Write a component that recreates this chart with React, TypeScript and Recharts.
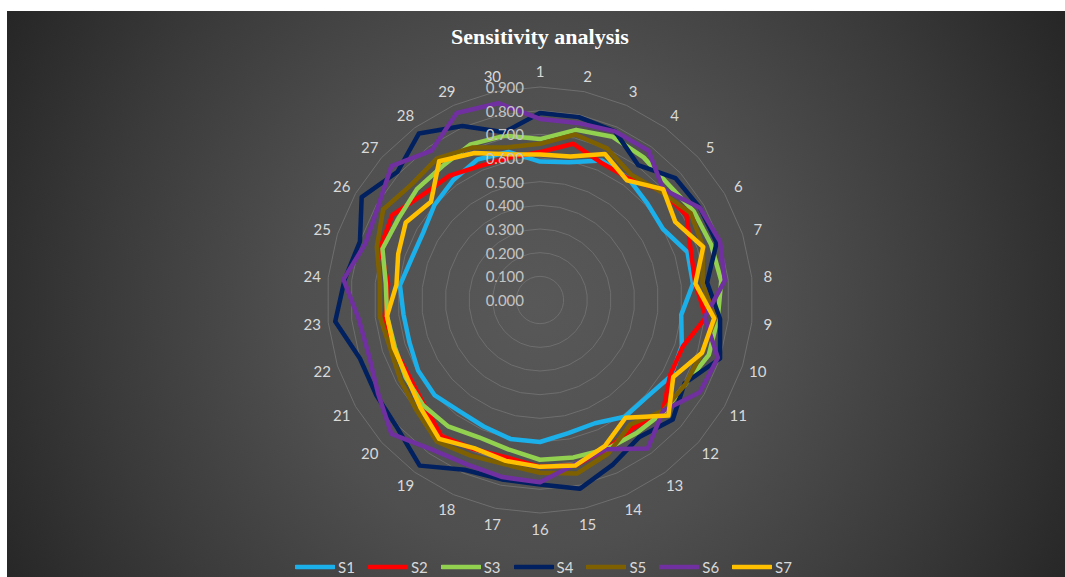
import React from 'react';
import { RadarChart, Radar, PolarGrid, PolarAngleAxis, PolarRadiusAxis, Legend } from 'recharts';

const CATEGORIES = ['1','2','3','4','5','6','7','8','9','10','11','12','13','14','15','16','17','18','19','20','21','22','23','24','25','26','27','28','29','30'];

const S1 = [0.585,0.595,0.645,0.635,0.61,0.60,0.655,0.65,0.60,0.63,0.64,0.61,0.61,0.57,0.575,0.60,0.60,0.585,0.58,0.60,0.595,0.58,0.58,0.595,0.57,0.57,0.60,0.625,0.65,0.64];
const S2 = [0.625,0.675,0.635,0.635,0.69,0.715,0.67,0.66,0.705,0.635,0.635,0.70,0.67,0.69,0.715,0.705,0.68,0.69,0.71,0.66,0.64,0.65,0.66,0.645,0.71,0.72,0.665,0.65,0.62,0.615];
const S3 = [0.68,0.735,0.755,0.745,0.73,0.75,0.76,0.77,0.755,0.75,0.71,0.705,0.695,0.69,0.68,0.675,0.645,0.635,0.66,0.665,0.655,0.645,0.65,0.655,0.70,0.69,0.70,0.70,0.72,0.71];
const S4 = [0.79,0.79,0.78,0.705,0.77,0.78,0.785,0.71,0.765,0.80,0.705,0.755,0.715,0.76,0.815,0.78,0.775,0.785,0.865,0.81,0.80,0.80,0.87,0.83,0.80,0.87,0.81,0.87,0.805,0.725];
const S5 = [0.66,0.715,0.70,0.655,0.685,0.735,0.725,0.69,0.745,0.72,0.71,0.70,0.65,0.71,0.75,0.73,0.71,0.72,0.74,0.70,0.68,0.665,0.68,0.68,0.725,0.765,0.73,0.74,0.705,0.66];
const S6 = [0.765,0.765,0.78,0.78,0.70,0.78,0.80,0.785,0.70,0.79,0.78,0.70,0.775,0.69,0.71,0.77,0.765,0.76,0.78,0.845,0.79,0.76,0.77,0.835,0.775,0.79,0.845,0.78,0.865,0.85];
const S7 = [0.615,0.62,0.675,0.625,0.70,0.66,0.725,0.66,0.74,0.72,0.65,0.73,0.615,0.675,0.715,0.705,0.695,0.685,0.725,0.68,0.65,0.65,0.65,0.61,0.63,0.655,0.62,0.725,0.68,0.63];

const SERIES_NAMES = ['S1','S2','S3','S4','S5','S6','S7'];
const SERIES_VALUES = [S1, S2, S3, S4, S5, S6, S7];
const SERIES_COLORS = ['#1cb0ea','#ff0000','#92d050','#002060','#7f6000','#7030a0','#ffc000'];

const RADIAL_TICKS = [0, 0.1, 0.2, 0.3, 0.4, 0.5, 0.6, 0.7, 0.8, 0.9];

const data = CATEGORIES.map((c, i) => {
  const row: Record<string, any> = { cat: c };
  SERIES_NAMES.forEach((n, k) => { row[n] = SERIES_VALUES[k][i]; });
  return row;
});

const CX = 540;
const CY = 300;
const OUTER_R = 213;
const LABEL_R = 229;

const AngleTick = (props: any) => {
  const { payload } = props;
  const cx = typeof props.cx === 'number' ? props.cx : CX;
  const cy = typeof props.cy === 'number' ? props.cy : CY;
  const ang = (-payload.coordinate * Math.PI) / 180;
  const x = cx + Math.cos(ang) * LABEL_R;
  const y = cy + Math.sin(ang) * LABEL_R;
  return (
    <text x={x} y={y} textAnchor="middle" dominantBaseline="central" fill="#d9d9d9" fontSize={15} fontFamily="Lato, 'Open Sans', sans-serif">
      {payload.value}
    </text>
  );
};

const RadiusTick = (props: any) => {
  const { x, y, payload } = props;
  return (
    <text x={x - 16} y={y} textAnchor="end" dominantBaseline="central" fill="#c4c4c4" fontSize={15} fontFamily="Lato, 'Open Sans', sans-serif">
      {Number(payload.value).toFixed(3)}
    </text>
  );
};

const LegendContent = () => (
  <div style={{ display: 'flex', justifyContent: 'center', alignItems: 'center', width: 1065, height: 20, paddingLeft: 22, boxSizing: 'border-box' }}>
    {SERIES_NAMES.map((n, i) => (
      <div key={n} style={{ display: 'flex', alignItems: 'center', marginRight: i < SERIES_NAMES.length - 1 ? 13 : 0 }}>
        <svg width={40} height={8} style={{ display: 'block' }}>
          <line x1={1} y1={4} x2={39} y2={4} stroke={SERIES_COLORS[i]} strokeWidth={4.5} strokeLinecap="round" />
        </svg>
        <span style={{ marginLeft: 3, color: '#d9d9d9', fontSize: 15, fontFamily: "Lato, 'Open Sans', sans-serif", lineHeight: '20px' }}>{n}</span>
      </div>
    ))}
  </div>
);

export default function App() {
  return (
    <div style={{ position: 'fixed', left: 0, top: 0, width: 1065, height: 577, background: '#ffffff', overflow: 'hidden' }}>
      <div
        style={{
          position: 'absolute', left: 7, top: 11, width: 1058, height: 566,
          background: 'radial-gradient(circle farthest-corner at 50% 52%, #585858 0%, #4f4f4f 40%, #3a3a3a 72%, #262626 100%)',
        }}
      />
      <div
        style={{
          position: 'absolute', left: 0, top: 23, width: 1080, textAlign: 'center',
          color: '#ffffff', fontFamily: "'Liberation Serif', 'Times New Roman', serif", fontWeight: 'bold', fontSize: 22, lineHeight: '28px',
        }}
      >
        Sensitivity analysis
      </div>
      <div style={{ position: 'absolute', left: 0, top: 0 }}>
        <RadarChart
          width={1065}
          height={577}
          data={data}
          cx={CX}
          cy={CY}
          outerRadius={OUTER_R}
          margin={{ top: 0, right: 0, bottom: 0, left: 0 }}
        >
          <PolarGrid gridType="polygon" radialLines={false} stroke="#6e6e6e" strokeWidth={1} />
          <PolarAngleAxis dataKey="cat" tick={<AngleTick />} tickLine={false} axisLine={false} />
          <PolarRadiusAxis
            angle={90}
            type="number"
            domain={[0, 0.9]}
            allowDataOverflow={true}
            allowDecimals={true}
            ticks={RADIAL_TICKS as any}
            tickCount={10}
            axisLine={false}
            tickLine={false}
            tick={<RadiusTick />}
          />
          {SERIES_NAMES.map((n, i) => (
            <Radar
              key={n}
              name={n}
              dataKey={n}
              stroke={SERIES_COLORS[i]}
              strokeWidth={4.5}
              strokeLinejoin="round"
              fill="none"
              fillOpacity={0}
              dot={false}
              isAnimationActive={false}
            />
          ))}
          <Legend
            content={<LegendContent />}
            wrapperStyle={{ position: 'absolute', left: 0, top: 557, width: 1065, height: 20 }}
          />
        </RadarChart>
      </div>
    </div>
  );
}
